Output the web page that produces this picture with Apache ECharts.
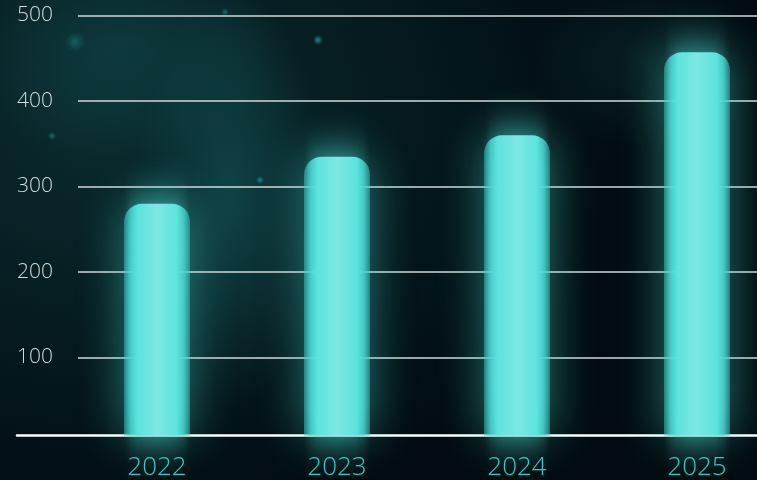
<!DOCTYPE html>
<html>
<head>
<meta charset="utf-8">
<script src="https://cdn.jsdelivr.net/npm/echarts@6/dist/echarts.min.js"></script>
<style>
html,body{margin:0;padding:0;width:757px;height:480px;overflow:hidden;}
#c{width:757px;height:480px;
background:
radial-gradient(circle 5px at 318px 40px, rgba(40,160,160,0.8), rgba(40,160,160,0) 100%),
radial-gradient(circle 4px at 260px 180px, rgba(40,160,160,0.7), rgba(40,160,160,0) 100%),
radial-gradient(circle 10px at 75px 42px, rgba(30,120,120,0.6), rgba(30,120,120,0) 100%),
radial-gradient(circle 4px at 225px 12px, rgba(40,150,150,0.6), rgba(40,150,150,0) 100%),
radial-gradient(circle 4px at 52px 136px, rgba(40,150,150,0.6), rgba(40,150,150,0) 100%),
radial-gradient(ellipse 95px 210px at 230px 200px, rgba(25,100,100,0.5), rgba(25,100,100,0) 100%),
radial-gradient(ellipse 160px 110px at 120px 50px, rgba(20,80,82,0.45), rgba(20,80,82,0) 100%),
radial-gradient(ellipse 120px 90px at 650px 60px, rgba(20,70,72,0.35), rgba(20,70,72,0) 100%),
radial-gradient(ellipse 520px 420px at 110px 110px, #0a2c30, #04151a 70%, #020c10 100%);
}
</style>
</head>
<body>
<div id="c"></div>
<script>
var categories = ['2022', '2023', '2024', '2025'];
var values = [280, 335, 360, 457];
var yTicks = [0, 100, 200, 300, 400, 500];

var chart = echarts.init(document.getElementById('c'), null, {renderer: 'canvas'});
var barGrad = new echarts.graphic.LinearGradient(0, 0, 1, 0, [
  {offset: 0, color: 'rgba(60,200,196,0.45)'},
  {offset: 0.1, color: 'rgba(75,215,210,0.85)'},
  {offset: 0.2, color: '#5de2dd'},
  {offset: 0.5, color: '#7de8e4'},
  {offset: 0.8, color: '#5de2dd'},
  {offset: 0.9, color: 'rgba(75,215,210,0.85)'},
  {offset: 1, color: 'rgba(60,200,196,0.45)'}
]);
chart.setOption({
  backgroundColor: 'transparent',
  animation: false,
  grid: [
    {left: 78, right: 0, top: 15.5, bottom: 37, outerBoundsMode: 'none'},
    {left: 67, width: 720, top: 15.5, bottom: 44.3, outerBoundsMode: 'none'},
    {left: 17, right: 0, top: 15.5, bottom: 44.3, outerBoundsMode: 'none'}
  ],
  xAxis: [
    {gridIndex: 0, type: 'category', data: categories, show: false},
    {gridIndex: 1, type: 'category', data: categories,
     axisLine: {show: false}, axisTick: {show: false},
     axisLabel: {color: '#3fc4c0', fontSize: 26, fontWeight: 300, fontFamily: 'Open Sans', margin: 19}},
    {gridIndex: 2, type: 'category', data: categories,
     axisLine: {show: true, lineStyle: {color: '#ffffff', width: 2.5}},
     axisTick: {show: false}, axisLabel: {show: false}}
  ],
  yAxis: [
    {gridIndex: 0, type: 'value', min: yTicks[0], max: yTicks[yTicks.length - 1], interval: 100,
     axisLine: {show: false}, axisTick: {show: false},
     axisLabel: {showMinLabel: false, color: '#d2dada', fontSize: 21, fontWeight: 300, fontFamily: 'Open Sans', margin: 25},
     splitLine: {show: true, showMinLine: false, lineStyle: {color: '#d0d8d8', width: 1.5}}},
    {gridIndex: 1, type: 'value', min: 9, max: 500, show: false, splitLine: {show: false}},
    {gridIndex: 2, type: 'value', min: 0, max: 500, show: false, splitLine: {show: false}}
  ],
  series: [{
    type: 'bar',
    xAxisIndex: 1, yAxisIndex: 1,
    data: values,
    barWidth: 66,
    clip: true,
    itemStyle: {
      color: barGrad,
      borderRadius: [18, 18, 0, 0],
      shadowBlur: 45,
      shadowColor: 'rgba(80,235,225,1)'
    }
  }]
});
</script>
</body>
</html>
